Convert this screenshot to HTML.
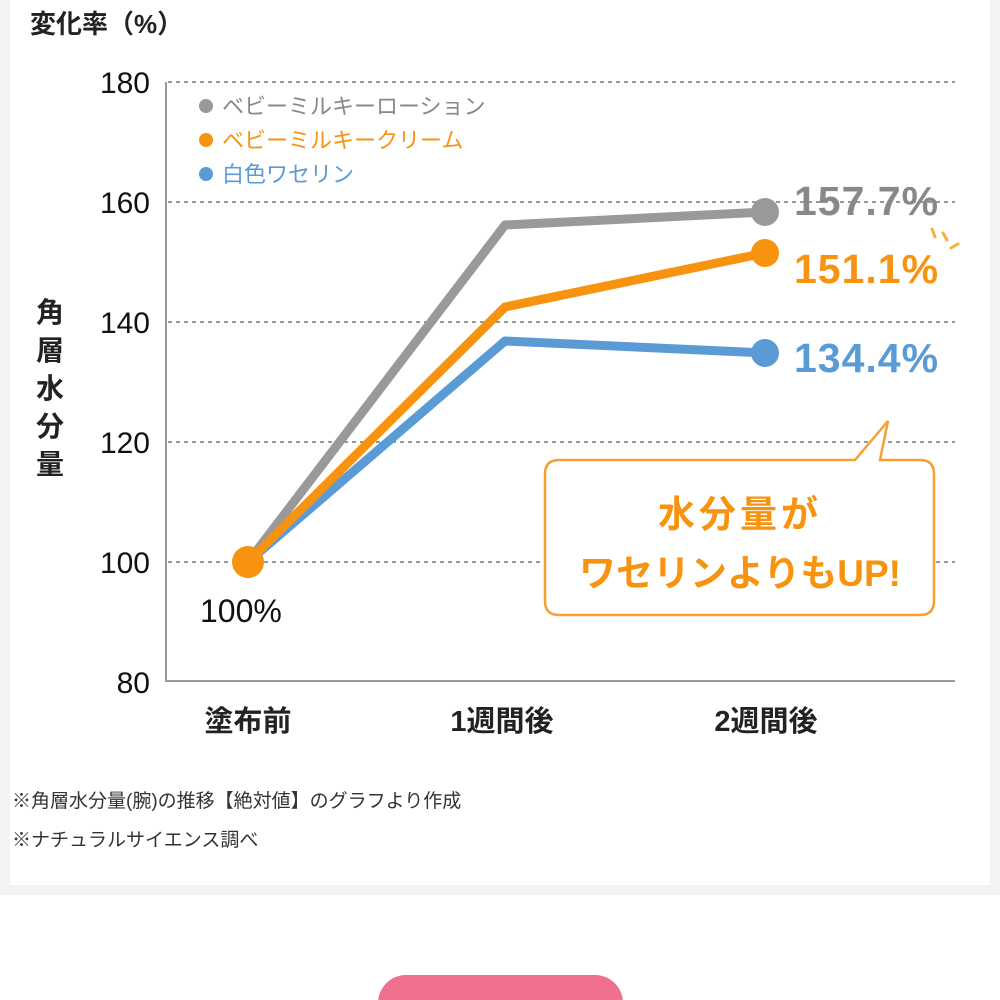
<!DOCTYPE html>
<html><head><meta charset="utf-8"><style>
html,body{margin:0;padding:0;width:1000px;height:1000px;overflow:hidden;background:#fff;}
svg{display:block}
text{font-family:"Liberation Sans","Noto Sans CJK JP",sans-serif;}
</style></head><body>
<svg width="1000" height="1000" viewBox="0 0 1000 1000" xmlns="http://www.w3.org/2000/svg">
<rect x="0" y="0" width="1000" height="895" fill="#f3f3f3"/>
<rect x="10" y="0" width="980" height="885" fill="#fff"/>
<text x="30" y="33" font-size="26" fill="#222" font-weight="bold">変化率（%）</text>
<g stroke="#777" stroke-width="1.5" stroke-dasharray="4,4">
<line x1="168" y1="82" x2="955" y2="82"/>
<line x1="168" y1="202" x2="955" y2="202"/>
<line x1="168" y1="322" x2="955" y2="322"/>
<line x1="168" y1="442" x2="955" y2="442"/>
<line x1="168" y1="562" x2="955" y2="562"/>
</g>
<polyline points="166,82 166,681 955,681" fill="none" stroke="#999" stroke-width="2"/>
<g font-size="30" fill="#111" text-anchor="end">
<text x="150" y="93">180</text>
<text x="150" y="213">160</text>
<text x="150" y="333">140</text>
<text x="150" y="453">120</text>
<text x="150" y="573">100</text>
<text x="150" y="693">80</text>
</g>
<g font-size="28" fill="#222" font-weight="bold" text-anchor="middle">
<text x="50" y="322">角</text>
<text x="50" y="360">層</text>
<text x="50" y="398">水</text>
<text x="50" y="436">分</text>
<text x="50" y="474">量</text>
</g>
<g font-size="29" fill="#222" font-weight="bold" text-anchor="middle">
<text x="248" y="731">塗布前</text>
<text x="502" y="731">1週間後</text>
<text x="766" y="731">2週間後</text>
</g>
<g fill="none" stroke-width="9" stroke-linejoin="round">
<polyline points="248,562 505,225 765,212" stroke="#999"/>
<polyline points="248,562 505,341 765,353" stroke="#5b9bd5"/>
<polyline points="248,562 505,307 765,253" stroke="#f7930f"/>
</g>
<circle cx="765" cy="212" r="14" fill="#999"/>
<circle cx="765" cy="253" r="14" fill="#f7930f"/>
<circle cx="765" cy="353" r="14" fill="#5b9bd5"/>
<circle cx="248" cy="562" r="16" fill="#f7930f"/>
<g font-size="41" font-weight="bold" letter-spacing="1">
<text x="794" y="215" fill="#888">157.7%</text>
<text x="794" y="283" fill="#f7930f">151.1%</text>
<text x="794" y="372" fill="#5b9bd5">134.4%</text>
</g>
<g stroke="#f7b040" stroke-width="3" stroke-linecap="round">
<line x1="932" y1="229" x2="935" y2="237"/>
<line x1="943" y1="233" x2="947" y2="240"/>
<line x1="951" y1="248" x2="958" y2="244"/>
</g>
<text x="200" y="622" font-size="32" fill="#111">100%</text>
<g font-size="22">
<circle cx="206" cy="106" r="7" fill="#999"/>
<text x="222" y="114" fill="#888">ベビーミルキーローション</text>
<circle cx="206" cy="140" r="7" fill="#f7930f"/>
<text x="222" y="148" fill="#f7930f">ベビーミルキークリーム</text>
<circle cx="206" cy="174" r="7" fill="#5b9bd5"/>
<text x="222" y="182" fill="#5b9bd5">白色ワセリン</text>
</g>
<path d="M559,460 L855,460 L888,421 L880,460 L920,460 Q934,460 934,474 L934,601 Q934,615 920,615 L559,615 Q545,615 545,601 L545,474 Q545,460 559,460 Z" fill="#fff" stroke="#f7a030" stroke-width="2.5"/>
<g font-size="37" fill="#f7930f" text-anchor="middle" font-weight="bold">
<text x="740" y="527" letter-spacing="4">水分量が</text>
<text x="740" y="586">ワセリンよりもUP!</text>
</g>
<g font-size="19" fill="#333">
<text x="12" y="807">※角層水分量(腕)の推移【絶対値】のグラフより作成</text>
<text x="12" y="846">※ナチュラルサイエンス調べ</text>
</g>
<rect x="378" y="975" width="245" height="60" rx="28" fill="#f0708e"/>
</svg>
</body></html>
